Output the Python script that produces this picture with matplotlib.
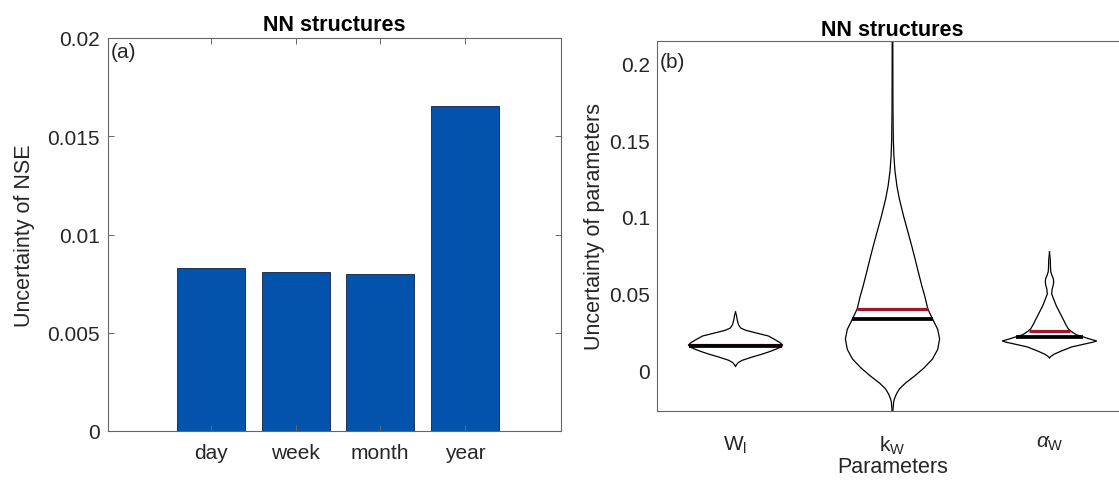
import numpy as np
import matplotlib
matplotlib.use("Agg")
import matplotlib.pyplot as plt

plt.rcParams["font.family"] = ["Liberation Sans", "DejaVu Sans"]
plt.rcParams["mathtext.fontset"] = "custom"
plt.rcParams["mathtext.rm"] = "Liberation Sans"
plt.rcParams["mathtext.it"] = "Liberation Sans:italic"

# panel (a) data
periods = ["day", "week", "month", "year"]
nse_unc = [0.00832, 0.00809, 0.00797, 0.01655]

# panel (b) data: violin profiles (value, relative density)
params = ["W$_{\\rm l}$", "k$_{\\rm W}$", "$\\alpha_{\\rm W}$"]

wl_vals = [0.0030, 0.0040, 0.0055, 0.0070, 0.0091, 0.0108, 0.0123, 0.0140, 0.0155, 0.0169,
           0.0185, 0.0205, 0.0227, 0.0240, 0.0253, 0.0265, 0.0279, 0.0300, 0.0330, 0.0360, 0.0383]
wl_dens = [0.0, 0.02, 0.06, 0.15, 0.36, 0.55, 0.70, 0.85, 0.96, 1.0,
           0.94, 0.83, 0.70, 0.53, 0.36, 0.21, 0.11, 0.064, 0.038, 0.021, 0.0]

kw_vals = [-0.035, -0.025, -0.020, -0.018, -0.015, -0.0117, -0.008, -0.003, 0.002, 0.0078,
           0.014, 0.0208, 0.027, 0.0338, 0.0403, 0.048, 0.055, 0.064, 0.0727, 0.081,
           0.090, 0.100, 0.1117, 0.120, 0.130, 0.140, 0.1506, 0.170, 0.190, 0.220]
kw_dens = [0.006, 0.010, 0.025, 0.042, 0.083, 0.146, 0.27, 0.48, 0.67, 0.85,
           0.96, 1.0, 0.96, 0.85, 0.75, 0.69, 0.625, 0.55, 0.48, 0.41,
           0.33, 0.24, 0.146, 0.094, 0.052, 0.029, 0.017, 0.010, 0.008, 0.006]

aw_vals = [0.0085, 0.0095, 0.011, 0.013, 0.0156, 0.0175, 0.0188, 0.0195, 0.0208, 0.0221,
           0.0235, 0.0255, 0.0273, 0.0305, 0.033, 0.0357, 0.039, 0.042, 0.046, 0.050,
           0.053, 0.056, 0.058, 0.060, 0.062, 0.0643, 0.067, 0.072, 0.0773]
aw_dens = [0.0, 0.032, 0.106, 0.255, 0.47, 0.745, 0.936, 1.0, 0.85, 0.72,
           0.57, 0.47, 0.40, 0.34, 0.30, 0.255, 0.20, 0.149, 0.096, 0.047,
           0.055, 0.081, 0.089, 0.081, 0.053, 0.028, 0.021, 0.017, 0.0]

means = [0.0167, 0.0403, 0.0262]
medians = [0.0162, 0.0338, 0.0221]

txt = "#262626"
spine_c = "#666666"
bar_c = "#0353ad"
red_c = "#a3152f"

fig = plt.figure(figsize=(11.19, 4.81), dpi=100)

# ---- (a) bar chart
ax1 = fig.add_axes([108 / 1119, 49 / 481, 453 / 1119, 393 / 481])
xpos = np.arange(1, len(periods) + 1)
ax1.bar(xpos, nse_unc, width=0.8, color=bar_c, edgecolor="#102040", linewidth=0.6)
ax1.set_xlim(-0.216, 5.134)
ax1.set_ylim(0, 0.02)
ax1.set_xticks(xpos)
ax1.set_xticklabels(periods)
ax1.set_yticks([0, 0.005, 0.01, 0.015, 0.02])
ax1.set_yticklabels(["0", "0.005", "0.01", "0.015", "0.02"])
ax1.tick_params(direction="in", top=True, right=True, length=4, width=0.7,
                color=spine_c, labelsize=15, labelcolor=txt)
ax1.tick_params(axis="x", pad=9)
ax1.tick_params(axis="y", pad=6)
ax1.set_ylabel("Uncertainty of NSE", fontsize=15.5, color=txt, labelpad=9)
ax1.set_title("NN structures", fontsize=15.5, fontweight="bold", color="black", pad=6)
ax1.text(0.006, 0.99, "(a)", transform=ax1.transAxes, ha="left", va="top",
         fontsize=15, color=txt)

# ---- (b) violins
ax2 = fig.add_axes([657 / 1119, 69 / 481, 471 / 1119, 370 / 481])
profiles = [(wl_vals, wl_dens), (kw_vals, kw_dens), (aw_vals, aw_dens)]
half_w = 0.30
for i, (vals, dens) in enumerate(profiles):
    c = i + 1
    v = np.array(vals)
    d = np.array(dens) / max(dens) * half_w
    ax2.fill_betweenx(v, c - d, c + d, facecolor="white", edgecolor="none", zorder=1)
    ax2.plot(c - d, v, color="black", lw=0.9, zorder=2)
    ax2.plot(c + d, v, color="black", lw=0.9, zorder=2)
    wm = np.interp(means[i], v, d)
    wd = np.interp(medians[i], v, d)
    ax2.plot([c - wm, c + wm], [means[i], means[i]], color=red_c, lw=2.3,
             solid_capstyle="butt", zorder=3)
    ax2.plot([c - wd, c + wd], [medians[i], medians[i]], color="black", lw=2.7,
             solid_capstyle="butt", zorder=4)

ax2.set_xlim(0.5, 3.5)
ax2.set_ylim(-0.026, 0.2143)
ax2.set_xticks([1, 2, 3])
ax2.set_xticklabels(params)
ax2.set_yticks([0, 0.05, 0.1, 0.15, 0.2])
ax2.set_yticklabels(["0", "0.05", "0.1", "0.15", "0.2"])
ax2.tick_params(length=0, labelsize=15, labelcolor=txt)
ax2.tick_params(axis="x", pad=16)
ax2.tick_params(axis="y", pad=5)
ax2.set_xlabel("Parameters", fontsize=15.5, color=txt, labelpad=0)
ax2.set_ylabel("Uncertainty of parameters", fontsize=15.5, color=txt, labelpad=3)
ax2.set_title("NN structures", fontsize=15.5, fontweight="bold", color="black", pad=4)
ax2.text(0.005, 0.97, "(b)", transform=ax2.transAxes, ha="left", va="top",
         fontsize=15, color=txt)

for ax in (ax1, ax2):
    for s in ax.spines.values():
        s.set_color(spine_c)
        s.set_linewidth(0.8)

fig.savefig("out.png", dpi=100)
